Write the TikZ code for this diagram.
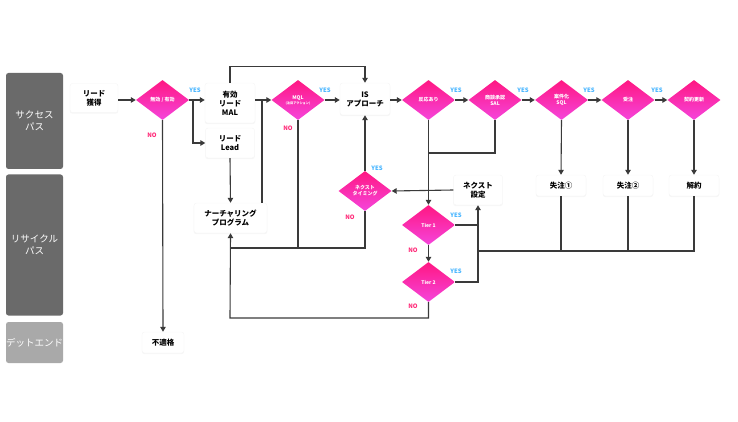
\documentclass[tikz,border=0pt]{standalone}
\usepackage{fontspec}
\setmainfont{Noto Sans CJK JP}
\usetikzlibrary{shapes.geometric,arrows.meta,shadows}
\definecolor{laneA}{HTML}{6A6A6A}
\definecolor{laneB}{HTML}{A9A9A9}
\definecolor{magA}{HTML}{FF1782}
\definecolor{magB}{HTML}{F545DC}
\definecolor{lineC}{HTML}{3A3A3A}
\definecolor{yesC}{HTML}{45B4FF}
\definecolor{noC}{HTML}{FF2A78}
\tikzset{
  lane/.style={rectangle, rounded corners=2.5, fill=laneA, text=white, align=center, font=\fontsize{9.5}{12}\selectfont, minimum width=57, inner sep=0},
  box/.style={rectangle, rounded corners=2.5, fill=white, draw=black!4, line width=0.4, align=center, font=\bfseries\fontsize{7.5}{9}\selectfont, inner sep=0, drop shadow={opacity=0.07, shadow xshift=0pt, shadow yshift=-1pt, shadow scale=1.01}},
  dia/.style={diamond, aspect=1.3, minimum width=53, minimum height=40, inner sep=0, top color=magA, bottom color=magB, draw=none, text=white, align=center, font=\bfseries\fontsize{5}{6}\selectfont},
  ln/.style={draw=lineC, line width=1.1},
  arr/.style={ln, -{Triangle[length=5,width=5.5]}},
  yes/.style={text=yesC, font=\bfseries\fontsize{6}{7}\selectfont, inner sep=0},
  no/.style={text=noC, font=\bfseries\fontsize{6}{7}\selectfont, inner sep=0}
}
\begin{document}
\begin{tikzpicture}[x=1pt,y=-1pt]
\useasboundingbox (0,0) rectangle (738,422);
% lanes
\node[lane, minimum height=96] (l1) at (34.5,121) {サクセス\\パス};
\node[lane, minimum height=141] (l2) at (34.5,245) {リサイクル\\パス};
\node[lane, fill=laneB, minimum height=41] (l3) at (34.5,342.5) {デットエンド};
% boxes
\node[box, minimum width=48, minimum height=29] (lead) at (94,98) {リード\\獲得};
\node[box, minimum width=50, minimum height=40] (mal) at (230,103) {有効\\リード\\MAL};
\node[box, minimum width=49, minimum height=30] (leadL) at (230,143) {リード\\Lead};
\node[box, minimum width=73, minimum height=30] (nur) at (230.5,218) {ナーチャリング\\プログラム};
\node[box, minimum width=50, minimum height=32] (is) at (365,99) {IS\\アプローチ};
\node[box, minimum width=49, minimum height=30] (nxs) at (478,190) {ネクスト\\設定};
\node[box, minimum width=50, minimum height=21] (lost1) at (561,185.5) {失注①};
\node[box, minimum width=50, minimum height=21] (lost2) at (628,185.5) {失注②};
\node[box, minimum width=50, minimum height=21] (cancel) at (694,185.5) {解約};
\node[box, minimum width=42, minimum height=21] (unq) at (163,342.5) {不適格};
% diamonds
\node[dia] (d1) at (162.5,100) {無効 / 有効};
\node[dia] (mql) at (298,100) {MQL\\[-1pt]{\fontsize{3.2}{4}\selectfont (注目アクション)}};
\node[dia] (res) at (428.5,100) {反応あり};
\node[dia] (sal) at (495,100) {商談承認\\SAL};
\node[dia] (sql) at (561.5,100) {案件化\\SQL};
\node[dia] (ord) at (628,100) {受注};
\node[dia] (ren) at (694,100) {契約更新};
\node[dia] (nt) at (365,191) {ネクスト\\タイミング};
\node[dia] (t1) at (428.5,225) {Tier 1};
\node[dia] (t2) at (428.5,282) {Tier 2};
% coordinates
\coordinate (br1) at (193,100);
\coordinate (j1) at (262,100);
\coordinate (b1) at (230,248);
\coordinate (b2) at (230,318);
\coordinate (b3) at (428.5,153);
\coordinate (b4) at (478,251);
% connectors
\draw[arr] (lead.east |- d1) -- (d1.west);
\draw[arr] (d1.east) -- (d1.east -| mal.west);
\draw[arr] (br1) |- (leadL.west);
\draw[arr] (mal.north) -- ++(0,-16) -| (is.north);
\draw[arr] (mal.east |- mql) -- (mql.west);
\draw[ln] (nur.north -| j1) -- (j1);
\draw[arr] (leadL.south) -- (nur.north);
\draw[arr] (mql.east) -- (mql.east -| is.west);
\draw[ln] (mql.south) |- (b1);
\draw[ln] (nt.south) |- (mql.south |- b1);
\draw[arr] (t2.south) |- (b2) -- (nur.south);
\draw[arr] (nt.north) -- (is.south);
\draw[arr] (nxs.west) -- (nt.east);
\draw[arr] (is.east |- res) -- (res.west);
\draw[arr] (res.east) -- (sal.west);
\draw[arr] (sal.east) -- (sql.west);
\draw[arr] (sql.east) -- (ord.west);
\draw[arr] (ord.east) -- (ren.west);
\draw[arr] (res.south) -- (t1.north);
\draw[ln] (sal.south) |- (b3);
\draw[arr] (sql.south) -- (lost1.north);
\draw[arr] (ord.south) -- (lost2.north);
\draw[arr] (ren.south) -- (cancel.north);
\draw[arr] (t1.south) -- (t2.north);
\draw[ln] (cancel.south) |- (b4);
\draw[ln] (lost1.south) -- (lost1.south |- b4);
\draw[ln] (lost2.south) -- (lost2.south |- b4);
\draw[arr] (t2.east) -| (nxs.south);
\draw[ln] (t1.east) -- (t1.east -| nxs.south);
\draw[arr] (d1.south) -- (unq.north);
% labels
\node[yes] (y1) at (195,90) {YES};
\node[no] (n1) at (152,135) {NO};
\node[yes] (y2) at (325,90) {YES};
\node[no] (n2) at (288,128) {NO};
\node[yes] (y3) at (456,90) {YES};
\node[yes] (y4) at (523,90) {YES};
\node[yes] (y5) at (589,90) {YES};
\node[yes] (y6) at (657,90) {YES};
\node[yes] (y7) at (377,168) {YES};
\node[no] (n3) at (350,217) {NO};
\node[yes] (y8) at (456,215) {YES};
\node[no] (n4) at (413,250) {NO};
\node[yes] (y9) at (456,271) {YES};
\node[no] (n5) at (413,306.5) {NO};
\end{tikzpicture}
\end{document}
